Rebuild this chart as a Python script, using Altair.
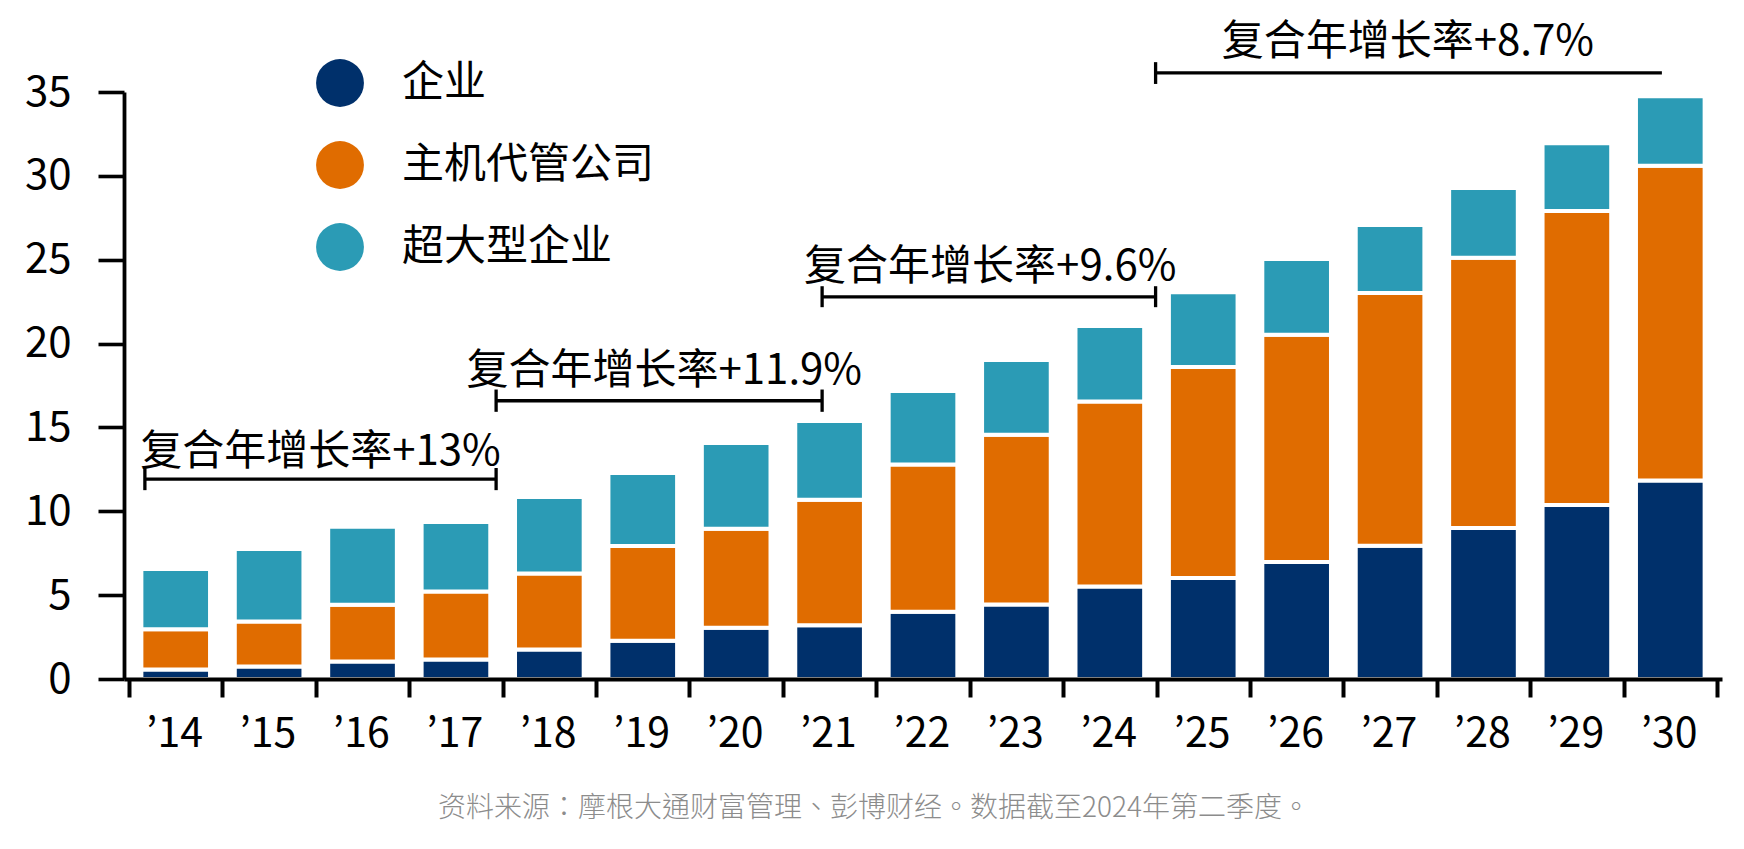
import json
import altair as alt
import pandas as pd

# ---------------- data ----------------
years = ["’14", "’15", "’16", "’17", "’18", "’19", "’20", "’21", "’22",
         "’23", "’24", "’25", "’26", "’27", "’28", "’29", "’30"]
series_names = ["企业", "主机代管公司", "超大型企业"]
enterprise = [0.57, 0.75, 1.04, 1.16, 1.76, 2.28, 3.06, 3.20, 4.01,
              4.44, 5.51, 6.02, 6.97, 7.95, 9.00, 10.37, 11.84]
hosting = [2.39, 2.68, 3.39, 4.05, 4.53, 5.65, 5.90, 7.49, 8.78,
           10.13, 11.03, 12.58, 13.56, 15.07, 16.12, 17.54, 18.76]
hyperscale = [3.60, 4.32, 4.65, 4.15, 4.56, 4.35, 5.11, 4.69, 4.38,
              4.45, 4.51, 4.46, 4.51, 4.05, 4.16, 4.03, 4.14]
colors = ["#00306b", "#e06c00", "#2b9bb5"]

# CAGR annotations (x in year-slot units, y in value units)
cagr_text = ["复合年增长率+13%", "复合年增长率+11.9%", "复合年增长率+9.6%", "复合年增长率+8.7%"]
cagr_text_x = [2.05, 5.73, 9.22, 13.69]
cagr_text_y = [13.55, 18.38, 24.58, 38.0]
bracket_start = [0.17, 3.93, 7.42, 10.99]
bracket_end = [3.93, 7.42, 10.99, 16.41]
bracket_y = [11.92, 16.59, 22.79, 36.14]
cap_x = [0.17, 3.93, 3.93, 7.42, 7.42, 10.99, 10.99]
cap_low = [11.26, 11.26, 15.93, 15.93, 22.17, 22.17, 35.48]
cap_high = [12.58, 12.58, 17.26, 17.26, 23.42, 23.42, 36.78]

source_note = "资料来源：摩根大通财富管理、彭博财经。数据截至2024年第二季度。"

FONT = "Noto Sans CJK SC"
FONT_NOTE = "Noto Sans CJK TC"
FONT_X = "Noto Sans CJK KR"

# ---------------- tables ----------------
rows = []
for i, y in enumerate(years):
    for k, (name, vals) in enumerate(zip(series_names, [enterprise, hosting, hyperscale])):
        rows.append({"idx": i, "year": y, "series": name, "value": vals[i], "order": k})
bars_df = pd.DataFrame(rows)

brackets_df = pd.DataFrame({"x": bracket_start, "x2": bracket_end, "y": bracket_y})
caps_df = pd.DataFrame({"x": cap_x, "y": cap_low, "y2": cap_high})
text_df = pd.DataFrame({"x": cagr_text_x, "y": cagr_text_y, "t": cagr_text})

n = len(years)
W, H = 1598, 587
step = W / n

xscale = alt.Scale(domain=[0, n], nice=False, zero=False)
yscale = alt.Scale(domain=[0, 35], nice=False)

label_expr = f"datum.value < {n} ? {json.dumps(years, ensure_ascii=False)}[datum.value] : ''"

x_axis = alt.Axis(
    values=list(range(n + 1)), labelExpr=label_expr, labelOffset=step / 2 - 2,
    labelFlush=False, labelOverlap=False, grid=False, title=None,
    tickSize=18, tickWidth=4, tickColor="black", domainWidth=4, domainColor="black",
    labelFontSize=41, labelFont=FONT_X, labelColor="black", labelPadding=17,
    zindex=1,
)
y_axis = alt.Axis(
    values=list(range(0, 36, 5)), grid=False, title=None,
    tickSize=26, tickWidth=3.6, tickColor="black", domainWidth=3.8, domainColor="black",
    labelFontSize=42, labelFont=FONT, labelColor="black", labelPadding=27,
    zindex=1,
)

bars = alt.Chart(bars_df).transform_calculate(
    pos="datum.idx + 0.5"
).mark_bar(width=step * 0.688 + 4, stroke="white", strokeWidth=4).encode(
    x=alt.X("pos:Q", scale=xscale, axis=x_axis),
    y=alt.Y("sum(value):Q", scale=yscale, axis=y_axis, stack="zero"),
    color=alt.Color(
        "series:N",
        scale=alt.Scale(domain=series_names, range=colors),
        sort=series_names,
        legend=alt.Legend(
            orient="none", legendX=192, legendY=-33, title=None,
            symbolType="circle", symbolSize=2290, symbolStrokeWidth=0,
            symbolOpacity=1, labelFontSize=42, labelFont=FONT, labelColor="black",
            labelLimit=0, rowPadding=34, labelOffset=38, padding=0,
        ),
    ),
    order=alt.Order("order:Q", sort="ascending"),
)

hlines = alt.Chart(brackets_df).mark_rule(color="black", strokeWidth=3.3).encode(
    x=alt.X("x:Q", scale=xscale), x2="x2:Q", y=alt.Y("y:Q", scale=yscale)
)
caps = alt.Chart(caps_df).mark_rule(color="black", strokeWidth=3.3).encode(
    x=alt.X("x:Q", scale=xscale), y=alt.Y("y:Q", scale=yscale), y2="y2:Q"
)
labels = alt.Chart(text_df).mark_text(
    font=FONT, fontSize=42, color="black", align="center", baseline="middle"
).encode(
    x=alt.X("x:Q", scale=xscale), y=alt.Y("y:Q", scale=yscale), text="t:N"
)

chart = alt.layer(bars, hlines, caps, labels).properties(
    width=W, height=H,
    autosize=alt.AutoSizeParams(type="none"),
    padding={"left": 124, "top": 92, "right": 22, "bottom": 170},
    background="white",
    title=alt.TitleParams(
        text=source_note, orient="bottom", anchor="middle", fontSize=28,
        font=FONT_NOTE, color="#8c8c8c", fontWeight=300, offset=41, dx=-49,
    ),
).configure_view(stroke=None)

chart.save("out.html", embed_options={"renderer": "svg", "actions": False})
